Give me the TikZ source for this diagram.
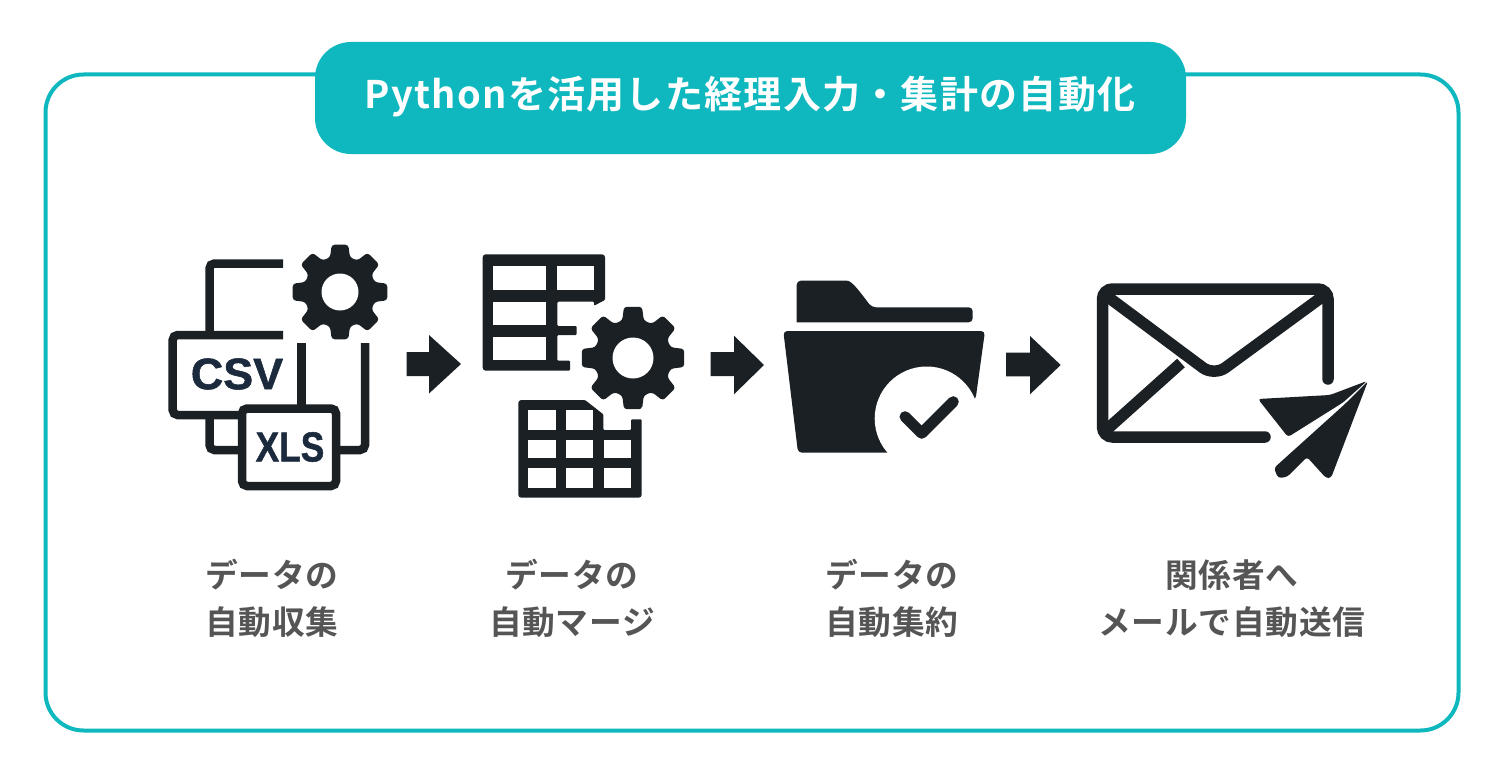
\documentclass[tikz,border=0pt]{standalone}
\usepackage{fontspec}
\setmainfont{Noto Sans CJK JP}[BoldFont={Noto Sans CJK JP Bold}]
\newfontfamily\titlefont{Noto Sans CJK JP Bold}[LetterSpace=3.4]
\newfontfamily\labelfont{Noto Sans CJK JP Bold}[LetterSpace=2.4]
\newfontfamily\iconfont{Liberation Sans Bold}[FakeBold=1.2]
\definecolor{teal}{HTML}{0FB8BE}
\definecolor{ink}{HTML}{1A2023}
\definecolor{navy}{HTML}{1C2A3E}
\definecolor{lab}{HTML}{555555}
\usetikzlibrary{calc}
\newcommand{\gearicon}[5]{% cx cy outer root hole
  \fill[ink,rounded corners=3] ($(#1,#2)+(80:#3)$)
   \foreach \a in {0,45,...,315}{
     -- ($(#1,#2)+(\a+80:#3)$) -- ($(#1,#2)+(\a+100:#3)$) -- ($(#1,#2)+(\a+106:#4)$) -- ($(#1,#2)+(\a+119:#4)$)
   } -- cycle;
  \fill[white] (#1,#2) circle (#5);
}
\tikzset{
  blockarrow/.style={fill=ink},
  outline/.style={draw=ink,line width=8.5,rounded corners=5},
  stub/.style={draw=ink,line width=8.5},
  labeltext/.style={text=lab,align=center,inner sep=0,font=\fontsize{32.7}{47}\selectfont\labelfont},
  cell/.style={fill=white},
}
\begin{document}
\begin{tikzpicture}[x=1pt,y=-1pt]
\useasboundingbox (0,0) rectangle (1500,768);
\fill[white] (0,0) rectangle (1500,768);
% frame and title
\draw[teal,line width=4,rounded corners=38] (45.5,74.5) rectangle (1458.5,730.5);
\fill[teal,rounded corners=36] (315,42) rectangle (1186,154);
\node[text=white,inner sep=0,font=\fontsize{38}{40}\selectfont\titlefont] (title) at (750,97) {Pythonを活用した経理入力・集計の自動化};
% icon 1
\draw[outline] (283,263.5) -- (209.5,263.5) -- (209.5,335);
\draw[outline] (209.5,415) -- (209.5,450) -- (242,450);
\draw[outline] (365,343) [rounded corners=0] -- (365,400) [rounded corners=5] -- (365,450) -- (336,450);
\draw[outline] (283,335) -- (172.7,335) -- (172.7,415) -- (242,415);
\draw[stub] (301.7,343) -- (301.7,408);
\draw[outline,fill=white] (242,408.5) rectangle (336,486);
\node[text=navy,inner sep=0,xscale=1.02,font=\fontsize{44}{44}\selectfont\iconfont] (csv) at (237,374) {CSV};
\node[text=navy,inner sep=0,xscale=.84,font=\fontsize{42}{42}\selectfont\iconfont] (xls) at (290,447) {XLS};
\gearicon{340}{292}{48}{36}{18.5}
% arrow 1
\fill[blockarrow] (406.7,352) -- (429,352) -- (429,335) -- (461,364) -- (429,393.5) -- (429,376) -- (406.7,376) -- cycle;
% icon 2
\fill[ink,rounded corners=1.5] (482.7,254.3) [rounded corners=3] -- (605,254.3) [rounded corners=1] -- (605,300) -- (594,305.7) -- (594,301.7) -- (557.3,301.7) -- (557.3,326) -- (576.7,326) -- (576.7,335) -- (557.3,335) -- (557.3,360.7) -- (570,360.7) -- (570,370.7) [rounded corners=3] -- (482.7,370.7) -- cycle;
\fill[cell] (492.7,266) rectangle (546,290);
\fill[cell] (557.3,266) rectangle (594,290);
\fill[cell] (492.7,301.7) rectangle (546,325);
\fill[cell] (492.7,336.7) rectangle (546,360);
\fill[ink,rounded corners=1] (518.3,400) -- (585,400) -- (603.3,414.3) -- (603.3,430) -- (631,430) -- (631,419.3) -- (641.7,419.3) [rounded corners=3] -- (641.7,497.7) -- (518.3,497.7) -- cycle;
\foreach \xa/\xb in {528.3/556,565.7/593.3,604.3/631}{
  \foreach \ya/\yb in {440/458.3,468.3/488.3}{
    \fill[cell] (\xa,\ya) rectangle (\xb,\yb);
  }
}
\fill[cell] (528.3,410) rectangle (556,430);
\fill[cell] (565.7,410) rectangle (593.3,430);
\gearicon{633}{358}{52}{39}{20.5}
% arrow 2
\fill[blockarrow] (710.7,352) -- (734,352) -- (734,335.7) -- (764,365) -- (734,394.3) -- (734,376) -- (710.7,376) -- cycle;
% icon 3
\fill[ink,rounded corners=4] (796.7,322.3) -- (796.7,280.7) -- (843,280.7) .. controls (852,280.7) and (860,292) .. (871.7,307.3) -- (972.7,307.3) -- (972.7,322.3) [sharp corners] -- cycle;
\fill[ink,rounded corners=4] (783.3,331) -- (985,331) -- (975.5,400) -- (926.7,418) -- (892,452.7) -- (798,452.7) -- cycle;
\fill[white] (926.7,418.5) circle (52);
\draw[ink,line width=11,line cap=round,line join=round] (905,416.7) -- (921.7,433.3) -- (953.3,401.7);
% arrow 3
\fill[blockarrow] (1006,352.7) -- (1030,352.7) -- (1030,336) -- (1060.7,365) -- (1030,394.3) -- (1030,376.3) -- (1006,376.3) -- cycle;
% icon 4
\draw[ink,line width=11.5,line cap=round,rounded corners=10] (1265,437) -- (1102.5,437) -- (1102.5,289) -- (1328,289) -- (1328,379);
\draw[ink,line width=11.5,rounded corners=14] (1104,294) -- (1214,376) -- (1326,294);
\draw[ink,line width=11.5] (1104,432) -- (1181,363);
\fill[ink,rounded corners=3] (1367,381) -- (1330,395) -- (1258,399) -- (1288,437) -- (1343,402.5) -- cycle;
\fill[ink,rounded corners=3] (1345,404) -- (1368,381) -- (1331,478) -- (1326,478) -- (1307,457) -- (1287,477) -- (1278,478) -- (1274,468) -- cycle;
% labels
\node[labeltext] (l1) at (272,598.5) {データの\\自動収集};
\node[labeltext] (l2) at (572,598.5) {データの\\自動マージ};
\node[labeltext] (l3) at (892,598.5) {データの\\自動集約};
\node[labeltext] (l4) at (1232,598.5) {関係者へ\\メールで自動送信};
\end{tikzpicture}
\end{document}
